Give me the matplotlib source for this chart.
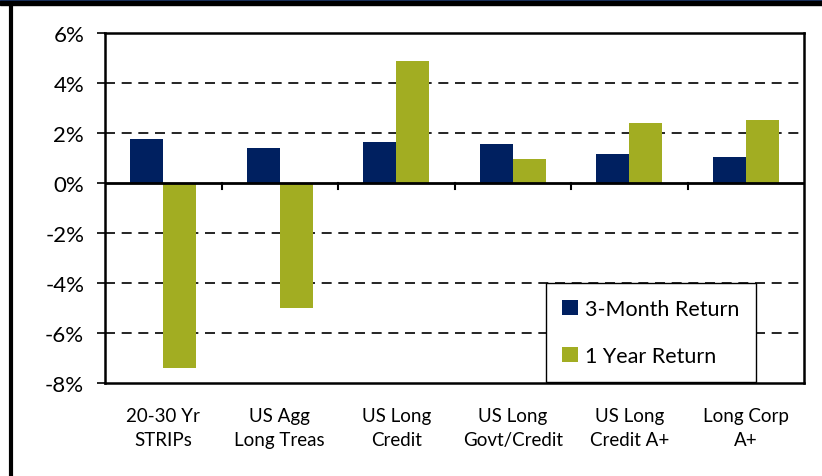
import numpy as np
import matplotlib
matplotlib.use('Agg')
import matplotlib.pyplot as plt
from matplotlib.patches import Rectangle
from matplotlib.lines import Line2D

categories = ['20-30 Yr\nSTRIPs', 'US Agg\nLong Treas', 'US Long\nCredit',
              'US Long\nGovt/Credit', 'US Long\nCredit A+', 'Long Corp\nA+']
three_month = [1.78, 1.40, 1.65, 1.58, 1.15, 1.05]
one_year = [-7.38, -5.00, 4.88, 0.96, 2.40, 2.52]
yticks = [-8, -6, -4, -2, 0, 2, 4, 6]

navy = '#002060'
olive = '#A2AD22'

plt.rcParams['font.family'] = ['Lato', 'DejaVu Sans']

fig = plt.figure(figsize=(8.22, 4.77), dpi=100)
ax = fig.add_axes([105 / 822, 1 - 384 / 477, 699 / 822, 350 / 477])

x = np.arange(len(categories))
w = 0.285
ax.bar(x - w / 2, three_month, w, color=navy, label='3-Month Return', zorder=3)
ax.bar(x + w / 2, one_year, w, color=olive, label='1 Year Return', zorder=3)

ax.set_xlim(-0.5, len(categories) - 0.5)
ax.set_ylim(-8, 6)
ax.set_yticks(yticks)
ax.set_yticklabels([f'{v}%' for v in yticks], fontsize=16)
for v in yticks[1:-1]:
    if v != 0:
        ax.axhline(v, color='black', lw=1.2, ls=(0, (6, 4)), zorder=1)
ax.axhline(0, color='black', lw=2, zorder=4)

# category labels sit below the plot, tick marks hang off the zero line
ax.set_xticks([])
for i, lab in enumerate(categories):
    ax.text(i, -8.95, lab, ha='center', va='top', fontsize=13.5,
            linespacing=1.5)
for b in np.arange(0.5, len(categories) - 0.5):
    ax.plot([b, b], [0, -0.25], color='black', lw=1.5, zorder=4,
            clip_on=False)
ax.tick_params(axis='y', length=6, width=1.2, pad=9)

for s in ax.spines.values():
    s.set_linewidth(1.8)

ax.legend(loc='lower right', bbox_to_anchor=(0.94, -0.015), fontsize=15.5,
          frameon=True, fancybox=False, edgecolor='black', framealpha=1,
          handlelength=0.7, handleheight=0.7, handletextpad=0.35,
          labelspacing=1.25, borderpad=0.75, borderaxespad=0.3)

# header band and side rule of the slide frame
fig.add_artist(Rectangle((0, 1 - 2 / 477), 1, 2 / 477, color='#1F3A6E',
                         transform=fig.transFigure))
fig.add_artist(Rectangle((0, 1 - 6 / 477), 1, 4 / 477, color='black',
                         transform=fig.transFigure))
fig.add_artist(Line2D([10.5 / 822, 10.5 / 822], [0, 1 - 6 / 477],
                      color='black', lw=3, transform=fig.transFigure))

fig.savefig('out.png', dpi=100)
